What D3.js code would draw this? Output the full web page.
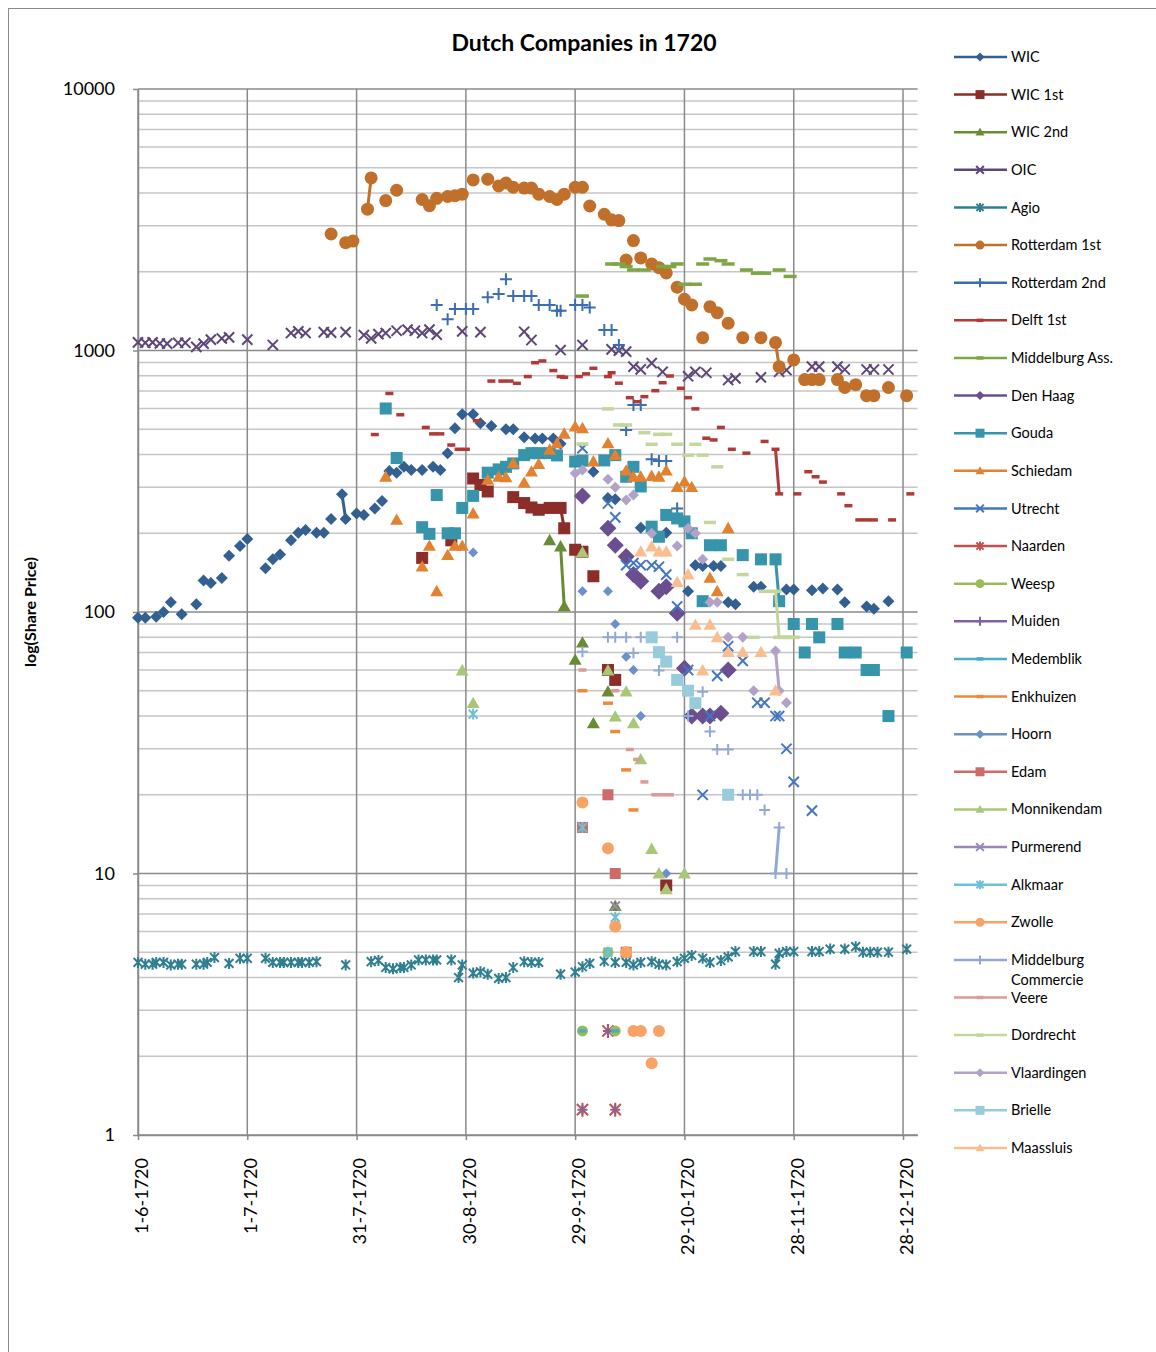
<!DOCTYPE html>
<html>
<head>
<meta charset="utf-8">
<script src="https://cdn.jsdelivr.net/npm/d3@7"></script>
<style>
  body { margin: 0; background: #fff; }
  text { font-family: Lato, "Open Sans", sans-serif; fill: #000; }
</style>
</head>
<body>
<svg id="chart" width="1156" height="1352"></svg>
<script>
// every point is [days after 1-6-1720, share price]
const wic = [[0,95],[2,95],[5,96],[7,100],[9,109],[12,98],[16,107],[18,132],[20,129],[23,135],[25,164],[28,179],[30,190],[35,147],[37,159],[39,166],[42,188],[44,201],[46,206],[49,201],[51,201],[53,227],[56,282],[57,227],[60,238],[62,235],[65,249],[67,266],[69,346],[71,341],[73,359],[75,349],[78,349],[81,359],[83,349],[85,405],[87,504],[89,571],[92,571],[94,527],[97,514],[101,500],[103,500],[106,466],[109,461],[111,461],[114,461],[116,440],[125,344],[129,273],[131,270],[138,210],[145,201],[151,120],[153,151],[155,150],[158,150],[160,150],[162,109],[164,107],[169,125],[171,125],[178,122],[180,122],[185,121],[188,123],[192,122],[194,109],[200,105],[202,103],[206,110]];
const wic1 = [[78,161],[86,188],[92,324],[94,306],[96,289],[103,275],[106,261],[108,251],[110,246],[113,250],[116,250],[117,209],[120,173],[122,170],[125,137],[129,60],[131,55],[145,9]];
const wic2 = [[113,188],[116,178],[117,105],[120,65.6],[122,76.3],[125,37.5],[129,49.6],[131,7.5]];
const oic = [[0,1074],[2,1070],[4,1074],[6,1064],[8,1062],[11,1070],[13,1070],[16,1032],[18,1062],[20,1100],[23,1112],[25,1122],[30,1100],[37,1050],[42,1166],[44,1184],[46,1166],[51,1176],[53,1170],[57,1176],[62,1146],[64,1112],[66,1155],[68,1166],[71,1190],[74,1202],[76,1190],[78,1166],[80,1202],[82,1150],[89,1184],[94,1176],[106,1180],[108,1097],[116,1004],[122,1050],[130,1010],[132,998],[134,990],[136,867],[138,847],[141,895],[144,829],[151,797],[153,829],[156,822],[162,771],[164,782],[171,789],[176,829],[178,842],[185,868],[187,868],[192,868],[194,846],[200,846],[202,846],[206,846]];
const agio = [[0,4.57],[2,4.5],[4,4.5],[5,4.57],[7,4.57],[9,4.47],[11,4.5],[12,4.5],[16,4.5],[18,4.5],[19,4.57],[21,4.77],[25,4.53],[28,4.74],[30,4.74],[35,4.74],[37,4.57],[39,4.57],[40,4.57],[42,4.57],[44,4.57],[45,4.57],[47,4.57],[49,4.6],[57,4.47],[64,4.6],[66,4.65],[68,4.37],[70,4.32],[72,4.37],[73,4.37],[75,4.47],[77,4.67],[79,4.67],[81,4.67],[82,4.67],[86,4.67],[88,4.0],[89,4.47],[92,4.16],[94,4.21],[96,4.12],[99,3.97],[101,4.0],[103,4.37],[106,4.6],[108,4.57],[110,4.57],[116,4.12],[120,4.2],[122,4.4],[124,4.53],[128,4.62],[131,4.57],[134,4.57],[136,4.47],[138,4.57],[141,4.6],[143,4.5],[145,4.47],[148,4.6],[150,4.74],[152,4.86],[155,4.74],[157,4.57],[160,4.65],[162,4.8],[164,5.03],[169,5.03],[171,5.03],[175,4.5],[176,4.95],[178,5.03],[180,5.03],[185,5.03],[187,5.03],[190,5.14],[194,5.14],[197,5.25],[199,5.0],[201,5.0],[203,5.0],[206,5.0],[211,5.14]];
const rotterdam1 = [[53,2790],[57,2585],[59,2620],[63,3470],[64,4570],[68,3745],[71,4100],[78,3780],[80,3580],[82,3820],[85,3880],[87,3910],[89,3960],[92,4490],[96,4520],[99,4260],[101,4370],[103,4210],[106,4180],[108,4180],[110,3960],[113,3880],[115,3780],[117,3960],[120,4210],[122,4210],[124,3570],[128,3320],[130,3160],[132,3140],[134,2218],[136,2633],[138,2260],[141,2142],[143,2074],[145,1980],[148,1745],[150,1570],[152,1493],[155,1120],[157,1471],[159,1395],[162,1271],[166,1120],[171,1120],[175,1072],[176,867],[180,920],[183,774],[185,774],[187,774],[192,774],[194,722],[197,740],[200,672],[202,672],[206,722],[211,672]];
const rotterdam2 = [[82,1493],[85,1316],[87,1441],[90,1441],[92,1441],[96,1597],[99,1644],[101,1872],[103,1615],[106,1615],[108,1615],[110,1493],[113,1493],[115,1420],[116,1420],[120,1493],[122,1493],[124,1460],[128,1198],[130,1198],[132,1050],[134,497],[136,619],[138,619],[141,384],[143,378],[145,378],[148,249]];
const delft1 = [[65,477],[69,685],[72,568],[79,508],[81,480],[83,480],[86,435],[88,419],[90,419],[93,539],[97,764],[100,764],[102,764],[104,749],[107,795],[109,898],[111,912],[114,838],[116,795],[117,790],[121,795],[123,814],[125,855],[129,795],[130,822],[132,750],[135,660],[137,637],[139,666],[142,702],[144,753],[146,799],[149,717],[151,660],[153,598],[156,462],[158,455],[160,508],[163,419],[167,405],[172,449],[175,419],[176,283],[181,283],[184,344],[186,329],[188,314],[193,283],[195,255],[198,225],[200,225],[202,225],[207,225],[212,283]];
const middelburgAss = [[122,1615],[130,2142],[132,2142],[134,2094],[136,2032],[139,2032],[144,2094],[146,2094],[148,2143],[150,1792],[153,1792],[155,2142],[157,2238],[160,2205],[162,2142],[167,2032],[170,1975],[172,1975],[176,2032],[179,1920]];
const denHaag = [[122,278],[129,209],[131,180],[134,163],[136,139],[138,131],[143,120],[145,125],[148,99],[150,61],[152,40],[155,40],[157,40],[160,41],[162,60]];
const gouda = [[68,600],[71,388],[78,211],[80,199],[82,280],[85,200],[87,200],[89,250],[92,278],[96,341],[99,351],[101,359],[103,370],[106,398],[108,405],[110,405],[113,405],[115,397],[120,376],[122,379],[128,380],[131,398],[134,329],[136,359],[138,302],[141,212],[143,194],[145,235],[148,228],[150,222],[152,200],[155,110],[157,180],[160,180],[166,165],[171,159],[175,159],[176,110],[180,90],[183,70],[185,90],[187,80],[192,90],[194,70],[197,70],[200,60],[202,60],[206,40],[211,70]];
const schiedam = [[68,329],[71,225],[78,149],[80,179],[82,120],[85,165],[87,179],[89,179],[92,238],[96,320],[99,329],[101,327],[103,370],[106,312],[108,344],[110,368],[113,417],[115,441],[117,480],[120,511],[122,504],[125,376],[129,441],[131,398],[134,347],[136,329],[138,329],[141,331],[143,329],[145,347],[148,300],[150,315],[152,300],[157,135],[159,120],[162,209]];
const utrecht = [[122,423],[129,260],[131,230],[134,151],[136,154],[138,151],[141,151],[143,149],[145,139],[148,105],[151,60],[155,20],[157,40],[159,57],[162,74],[166,65],[170,45],[172,45],[175,40],[176,40],[178,30],[180,22.4],[185,17.4]];
const naarden = [[122,1.25],[129,2.5],[131,1.25]];
const weesp = [[122,2.5],[129,5],[131,2.5]];
const muiden = [[122,1.25],[129,2.5],[131,1.25]];
const medemblik = [[122,2.5],[131,2.5]];
const enkhuizen = [[122,50],[129,44.8],[131,34.9],[134,24.9],[136,17.5]];
const hoorn = [[92,169],[122,120],[129,120],[131,90],[134,67.5],[136,60],[138,40],[145,10]];
const edam = [[122,15],[129,20],[131,10],[134,5]];
const monnikendam = [[89,59.7],[92,44.8],[122,169],[129,59.7],[131,39.8],[134,49.6],[136,37.5],[138,27.3],[141,12.4],[143,10],[145,8.7],[150,10]];
const purmerend = [[131,7.5]];
const alkmaar = [[92,40.7],[122,15],[129,5],[131,6.8]];
const zwolle = [[122,18.7],[129,12.5],[131,6.27],[134,5],[136,2.5],[138,2.5],[141,1.88],[143,2.5]];
const middelburgCom = [[122,70.5],[129,80],[131,80],[134,80],[136,69.7],[138,80],[143,59.7],[148,80],[151,40],[155,49.6],[157,34.9],[159,29.8],[162,29.8],[166,20],[168,20],[170,20],[172,17.5],[175,10],[176,15],[178,10]];
const veere = [[122,60],[131,50],[135,29.8],[137,27.3],[139,22.4],[142,20],[144,20],[146,20]];
const dordrecht = [[122,439],[129,598],[132,519],[134,519],[139,485],[141,438],[143,478],[145,478],[148,438],[151,398],[153,438],[155,398],[157,220],[159,359],[162,159],[166,139],[169,80],[172,120],[175,120],[176,80],[177,80],[178,80],[179,80],[180,80]];
const vlaardingen = [[120,339],[122,349],[129,322],[131,300],[134,268],[136,280],[141,200],[148,179],[151,209],[153,200],[155,159],[157,109],[159,109],[162,80],[166,80],[169,50],[175,71],[176,50],[178,45]];
const brielle = [[141,80],[143,70.2],[145,64.6],[148,55],[151,50],[153,44.8],[162,20]];
const maassluis = [[138,170],[141,178],[143,170],[145,170],[148,130],[151,139],[153,89.2],[155,59.7],[157,89.2],[159,80],[162,70.2],[166,70.2],[171,70.2],[175,50]];

const seriesNames = ["WIC","WIC 1st","WIC 2nd","OIC","Agio","Rotterdam 1st","Rotterdam 2nd","Delft 1st","Middelburg Ass.","Den Haag","Gouda","Schiedam","Utrecht","Naarden","Weesp","Muiden","Medemblik","Enkhuizen","Hoorn","Edam","Monnikendam","Purmerend","Alkmaar","Zwolle","Middelburg Commercie","Veere","Dordrecht","Vlaardingen","Brielle","Maassluis"];
const seriesData = [wic,wic1,wic2,oic,agio,rotterdam1,rotterdam2,delft1,middelburgAss,denHaag,gouda,schiedam,utrecht,naarden,weesp,muiden,medemblik,enkhuizen,hoorn,edam,monnikendam,purmerend,alkmaar,zwolle,middelburgCom,veere,dordrecht,vlaardingen,brielle,maassluis];
const xTickDays = [0,30,60,90,120,150,180,210];
const yTickValues = [1,10,100,1000,10000];

// styling
const seriesColors = ["#335f91","#8c2d2a","#6a8b35","#5d4778","#2f7f91","#c0702b","#3a6eb1","#b13a37","#7fa645","#6a4e90","#3694ab","#e2812f","#4576c0","#c4504d","#9bbb59","#8064a2","#4bacc6","#f0883a","#6d90c9","#cd6b69","#a8c878","#9a86ba","#6cc1d6","#f9a266","#93a9d5","#d99b9a","#c3d69b","#b2a2c7","#98cbdb","#fbbd8f"];
const markerShapes = ["diamond","square","triangle","x","star","circle","plus","shortdash","dash","diamond","square","triangle","x","star","circle","plus","shortdash","dash","diamond","square","triangle","x","star","circle","plus","shortdash","dash","diamond","square","triangle"];
const markerSizes = [12,12,13,12,11,13,12,8,13,17,12,13,12,14,11,10,8,10,10,11,13,11,11,12,11,8,12,11,12,13];

const svg = d3.select("#chart");
const start = new Date(Date.UTC(1720, 5, 1));
const end = new Date(Date.UTC(1721, 0, 1));
const day = d => d3.utcDay.offset(start, d);

const plotLeft = 138, plotRight = 917.6, plotTop = 89, plotBottom = 1135;
const x = d3.scaleUtc().domain([start, end]).range([plotLeft, plotRight]);
const y = d3.scaleLog().domain([1, 10000]).range([plotBottom, plotTop]);

// outer chart frame
svg.append("rect")
  .attr("x", 8.5).attr("y", 8.5)
  .attr("width", 1300).attr("height", 1500)
  .attr("fill", "none").attr("stroke", "#8a8a8a");

// gridlines
const grid = svg.append("g");
grid.selectAll(".minor")
  .data(y.ticks().filter(v => !yTickValues.includes(v)))
  .enter().append("line")
  .attr("x1", plotLeft).attr("x2", plotRight)
  .attr("y1", d => y(d)).attr("y2", d => y(d))
  .attr("stroke", "#c6c6c6").attr("stroke-width", 1.5);
grid.selectAll(".major")
  .data(yTickValues)
  .enter().append("line")
  .attr("x1", plotLeft).attr("x2", plotRight)
  .attr("y1", d => y(d)).attr("y2", d => y(d))
  .attr("stroke", "#8a8a8a").attr("stroke-width", 1.5);
grid.selectAll(".vert")
  .data(xTickDays)
  .enter().append("line")
  .attr("x1", d => x(day(d))).attr("x2", d => x(day(d)))
  .attr("y1", plotTop).attr("y2", plotBottom)
  .attr("stroke", "#8a8a8a").attr("stroke-width", 1.5);

// axes
const yAxis = svg.append("g")
  .attr("transform", "translate(" + plotLeft + ",0)")
  .call(d3.axisLeft(y).tickValues(yTickValues).tickFormat(d3.format("d")).tickSize(5).tickSizeOuter(0).tickPadding(18));
yAxis.select(".domain").attr("stroke", "#8a8a8a").attr("stroke-width", 1.5);
yAxis.selectAll(".tick line").attr("stroke", "#8a8a8a").attr("stroke-width", 1.5);
yAxis.selectAll("text").attr("font-size", "18px").attr("font-family", "Lato, sans-serif").attr("fill", "#000");

const xAxis = svg.append("g")
  .attr("transform", "translate(0," + plotBottom + ")")
  .call(d3.axisBottom(x).tickValues(xTickDays.map(day)).tickFormat(d3.utcFormat("%-d-%-m-%Y")).tickSize(5).tickSizeOuter(0));
xAxis.select(".domain").attr("stroke", "#8a8a8a").attr("stroke-width", 1.5);
xAxis.selectAll(".tick line").attr("stroke", "#8a8a8a").attr("stroke-width", 1.5);
xAxis.selectAll("text")
  .attr("transform", "rotate(-90)")
  .attr("x", -23).attr("y", 3).attr("dy", "0.35em")
  .attr("text-anchor", "end")
  .attr("font-size", "18px").attr("font-family", "Lato, sans-serif").attr("fill", "#000");

// title and axis label
svg.append("text")
  .attr("x", 584).attr("y", 43).attr("dy", "0.35em")
  .attr("text-anchor", "middle")
  .attr("font-size", "23px").attr("font-weight", "bold")
  .text("Dutch Companies in 1720");
svg.append("text")
  .attr("transform", "translate(30,612) rotate(-90)")
  .attr("dy", "0.35em")
  .attr("text-anchor", "middle")
  .attr("font-size", "16px").attr("font-weight", "bold")
  .text("log(Share Price)");

// marker drawing
function marker(g, shape, size, color) {
  const r = size / 2;
  if (shape === "diamond") {
    g.append("path").attr("d", `M0,${-r}L${r},0L0,${r}L${-r},0Z`).attr("fill", color);
  } else if (shape === "square") {
    g.append("rect").attr("x", -r).attr("y", -r).attr("width", size).attr("height", size).attr("fill", color);
  } else if (shape === "triangle") {
    g.append("path").attr("d", `M0,${-r}L${r},${r * 0.75}L${-r},${r * 0.75}Z`).attr("fill", color);
  } else if (shape === "circle") {
    g.append("circle").attr("r", r).attr("fill", color);
  } else if (shape === "x") {
    const k = r * 0.85;
    g.append("path").attr("d", `M${-k},${-k}L${k},${k}M${k},${-k}L${-k},${k}`)
      .attr("stroke", color).attr("stroke-width", 2).attr("fill", "none");
  } else if (shape === "star") {
    const k = r * 0.8;
    g.append("path").attr("d", `M${-k},${-k}L${k},${k}M${k},${-k}L${-k},${k}M0,${-r}L0,${r}`)
      .attr("stroke", color).attr("stroke-width", 2).attr("fill", "none");
  } else if (shape === "plus") {
    g.append("path").attr("d", `M${-r},0L${r},0M0,${-r}L0,${r}`)
      .attr("stroke", color).attr("stroke-width", 2).attr("fill", "none");
  } else {
    g.append("rect").attr("x", -r).attr("y", -1.75).attr("width", size).attr("height", 3.5).attr("fill", color);
  }
}

// series: a line joins only entries on consecutive days
const line = d3.line().x(p => x(day(p[0]))).y(p => y(p[1]));
const plot = svg.append("g");
seriesData.forEach((vals, i) => {
  const g = plot.append("g");
  const runs = [];
  let run = [vals[0]];
  for (let j = 1; j < vals.length; j++) {
    if (vals[j][0] - vals[j - 1][0] === 1) run.push(vals[j]);
    else { runs.push(run); run = [vals[j]]; }
  }
  runs.push(run);
  g.selectAll(".seg")
    .data(runs.filter(r => r.length > 1))
    .enter().append("path")
    .attr("d", line)
    .attr("fill", "none")
    .attr("stroke", seriesColors[i])
    .attr("stroke-width", 3)
    .attr("stroke-linejoin", "round");
  g.selectAll(".pt")
    .data(vals)
    .enter().append("g")
    .attr("transform", p => "translate(" + x(day(p[0])) + "," + y(p[1]) + ")")
    .each(function () { marker(d3.select(this), markerShapes[i], markerSizes[i], seriesColors[i]); });
});

// legend
const legend = svg.append("g");
seriesNames.forEach((name, i) => {
  const ly = 57 + i * 37.62;
  const row = legend.append("g").attr("transform", "translate(0," + ly + ")");
  row.append("line").attr("x1", 954).attr("x2", 1007).attr("y1", 0).attr("y2", 0)
    .attr("stroke", seriesColors[i]).attr("stroke-width", 2.5);
  const m = row.append("g").attr("transform", "translate(980,0)");
  const s = markerShapes[i];
  marker(m, s, s === "dash" || s === "shortdash" ? 7 : 9, seriesColors[i]);
  const t = row.append("text").attr("x", 1011).attr("y", 0).attr("font-size", "14.5px");
  const words = name.split(" ");
  if (name.length > 16) {
    words.forEach((w, k) => t.append("tspan").attr("x", 1011).attr("dy", k === 0 ? "0.35em" : "1.4em").text(w));
  } else {
    t.attr("dy", "0.35em").text(name);
  }
});
</script>
</body>
</html>
